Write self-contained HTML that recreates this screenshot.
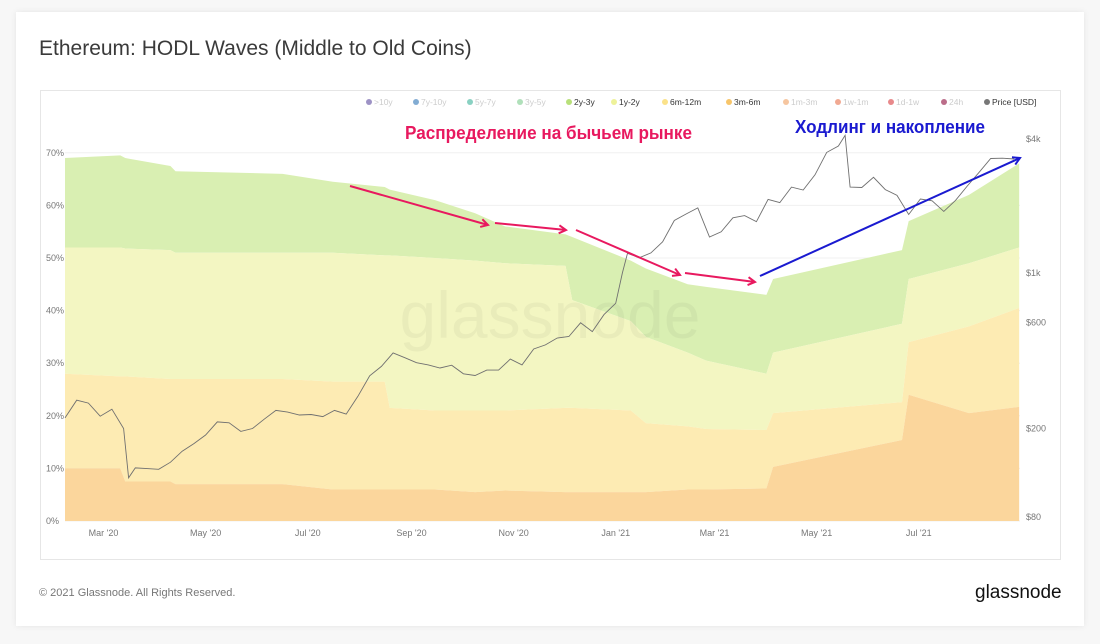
<!DOCTYPE html>
<html><head><meta charset="utf-8">
<style>
body{margin:0;width:1100px;height:644px;background:#f7f7f7;font-family:"Liberation Sans","DejaVu Sans",sans-serif;overflow:hidden;position:relative}
#card{position:absolute;left:16px;top:12px;width:1068px;height:614px;background:#fff;box-shadow:0 0 6px rgba(0,0,0,0.08)}
#title{position:absolute;left:39px;top:37px;font-size:21px;color:#3a3a3a}
#frame{position:absolute;left:40px;top:90px;width:1021px;height:470px;border:1px solid #e6e6e6;box-sizing:border-box}
#foot{position:absolute;left:39px;top:587px;font-size:11px;color:#777}
#logo{position:absolute;left:975px;top:582px;font-size:19px;color:#111}
svg{position:absolute;left:0;top:0}
</style></head><body>
<div id="card"></div>
<div id="title">Ethereum: HODL Waves (Middle to Old Coins)</div>
<div id="frame"></div>
<div id="foot">© 2021 Glassnode. All Rights Reserved.</div>
<div id="logo">glassnode</div>
<svg id="chart" width="1100" height="644"></svg>
<script>
// band knots (days since 2020-02-07), cumulative tops in %
const bandDays = [0,33,36,63,66,130,160,191,194,221,245,263,299,303,338,347,372,383,419,423,500,504,540,570];
const top2y3y = [69,69.5,69,67.5,66.5,66,64.5,63.5,63,61,58.5,56,54.5,54,49.5,48,45,44.5,43,46,51.5,57,62,68];
const top1y2y = [52,52,51.8,51.5,51,51,51,50.5,50.5,50,49.5,49,48.5,42,38,35,32,30.5,28,32,37.5,46,49,52];
const top6m12m = [28,27.5,27.5,27,27,27,26.5,26.5,21.5,21,21,21,21.5,21.5,21,18.6,18,17.5,17.3,20.5,22.6,34,37,40.5];
const top3m6m = [10,10,7.5,7.5,7,7,6,6,6,6,5.5,5.8,5.5,5.5,5.5,5.5,6,6,6.2,10.3,15.4,24,20.5,21.7];
// ETH price (USD): day offsets since 2020-02-07 and values
const priceDays = [0,7,14,21,28,35,38,42,49,56,63,70,77,84,91,98,105,112,119,126,133,140,147,154,161,168,175,182,189,196,203,210,217,224,231,238,245,252,259,266,273,280,287,294,301,308,315,322,329,333,336,343,350,357,364,371,378,385,392,399,406,413,420,427,434,441,448,455,462,466,469,476,483,490,497,504,511,518,525,532,539,546,553,560,567];
const price = [223,268,260,227,244,200,120,133,132,131,141,158,171,187,214,212,194,200,220,241,237,230,231,226,241,232,279,345,380,437,416,395,386,374,385,352,346,366,366,410,386,455,475,510,518,597,545,650,730,1000,1225,1170,1230,1380,1720,1840,1960,1450,1530,1770,1810,1700,2140,2070,2430,2360,2760,3480,3720,4150,2430,2420,2690,2370,2230,1830,2150,2110,1890,2120,2460,2830,3270,3280,3250];
const yTicks = [0,10,20,30,40,50,60,70];
const priceTicks = [80,200,600,1000,4000];
const priceTickLabels = ['$80','$200','$600','$1k','$4k'];
const xTickLabels = ["Mar '20","May '20","Jul '20","Sep '20","Nov '20","Jan '21","Mar '21","May '21","Jul '21"];
const xTickDays = [23,84,145,207,268,329,388,449,510];

const NS='http://www.w3.org/2000/svg';
const svg=document.getElementById('chart');
const X=d=>65+d*1.674;
const Y=p=>521-p*5.26;
const PY=v=>517-(Math.log10(v)-Math.log10(80))*222.5;
function mk(tag,attrs,parent){const e=document.createElementNS(NS,tag);for(const k in attrs)e.setAttribute(k,attrs[k]);(parent||svg).appendChild(e);return e;}

yTicks.forEach(t=>{
  const l=mk('line',{x1:65,x2:1020,y1:Y(t),y2:Y(t),stroke:'#f0f0f0'});
  
  
  const tx=mk('text',{x:46,y:Y(t)+3,'font-size':9,fill:'#777'});tx.textContent=t+'%';
  
  
});
function area(topArr,botArr,color,name){
  let d='M'+X(bandDays[0])+','+Y(topArr[0]);
  for(let i=1;i<bandDays.length;i++)d+='L'+X(bandDays[i])+','+Y(topArr[i]);
  for(let i=bandDays.length-1;i>=0;i--)d+='L'+X(bandDays[i])+','+Y(botArr?botArr[i]:0);
  const p=mk('path',{d:d+'Z',fill:color});
  
  
}
area(top2y3y,top1y2y,'#d9efb2','band-2y-3y');
area(top1y2y,top6m12m,'#f3f6c2','band-1y-2y');
area(top6m12m,top3m6m,'#fdebb3','band-6m-12m');
area(top3m6m,null,'#fbd69c','band-3m-6m');
const wm=mk('text',{x:550,y:338,'font-size':66,fill:'#000','fill-opacity':0.04,'text-anchor':'middle'});wm.textContent='glassnode';


let pd='';price.forEach((v,i)=>{pd+=(i?'L':'M')+X(priceDays[i]).toFixed(1)+','+PY(v).toFixed(1);});
const pl=mk('path',{d:pd,fill:'none',stroke:'#707070',"stroke-width":0.9});


priceTicks.forEach((v,i)=>{
  const t=mk('text',{x:1026,y:PY(v)+3,'font-size':9,fill:'#777'});t.textContent=priceTickLabels[i];
  
  
});
xTickLabels.forEach((s,i)=>{
  const t=mk('text',{x:X(xTickDays[i]),y:536,'font-size':9,fill:'#777','text-anchor':'middle'});t.textContent=s;
  
  
});
const legNames=['>10y','7y-10y','5y-7y','3y-5y','2y-3y','1y-2y','6m-12m','3m-6m','1m-3m','1w-1m','1d-1w','24h','Price [USD]'];
const legColors=['#5b4a9e','#2e75b6','#3bb39a','#7ccc8c','#b8e07a','#eef29a','#fbe28a','#f7c56a','#f0a060','#e8704a','#d83a3e','#8e0b3a','#777'];
const legX=[369,416,470,520,569,614,665,729,786,838,891,944,987];
const legActive=[0,0,0,0,1,1,1,1,0,0,0,0,1];
legNames.forEach((n,i)=>{
  const g=mk('g',{});
  
  
  mk('circle',{cx:legX[i],cy:102,r:3,fill:legColors[i],opacity:legActive[i]?1:0.6},g);
  const t=mk('text',{x:legX[i]+5,y:105,'font-size':8.5,fill:legActive[i]?'#333':'#ccc'},g);t.textContent=n;
});
const defs=mk('defs',{});
[['pink','#e8195f'],['blue','#1a1ad0']].forEach(([id,c])=>{
  const m=mk('marker',{id:'ah-'+id,markerWidth:10,markerHeight:10,refX:8,refY:5,orient:'auto',markerUnits:'userSpaceOnUse'},defs);
  mk('path',{d:'M1,1L8,5L1,9',fill:'none',stroke:c,'stroke-width':2},m);
});
[[350,186,488,225],[495,223,566,230],[576,230,680,275],[685,273,755,282]].forEach(a=>{
  const l=mk('line',{x1:a[0],y1:a[1],x2:a[2],y2:a[3],stroke:'#e8195f','stroke-width':2,'marker-end':'url(#ah-pink)'});
  
  
});
const bl=mk('line',{x1:760,y1:276,x2:1020,y2:158,stroke:'#1a1ad0','stroke-width':2,'marker-end':'url(#ah-blue)'});


const t1=mk('text',{x:405,y:139,'font-size':18,'font-weight':'bold',fill:'#e8195f',textLength:287,lengthAdjust:'spacingAndGlyphs'});t1.textContent='Распределение на бычьем рынке';


const t2=mk('text',{x:795,y:133,'font-size':18,'font-weight':'bold',fill:'#1a1ad0',textLength:190,lengthAdjust:'spacingAndGlyphs'});t2.textContent='Ходлинг и накопление';


</script>
</body></html>
